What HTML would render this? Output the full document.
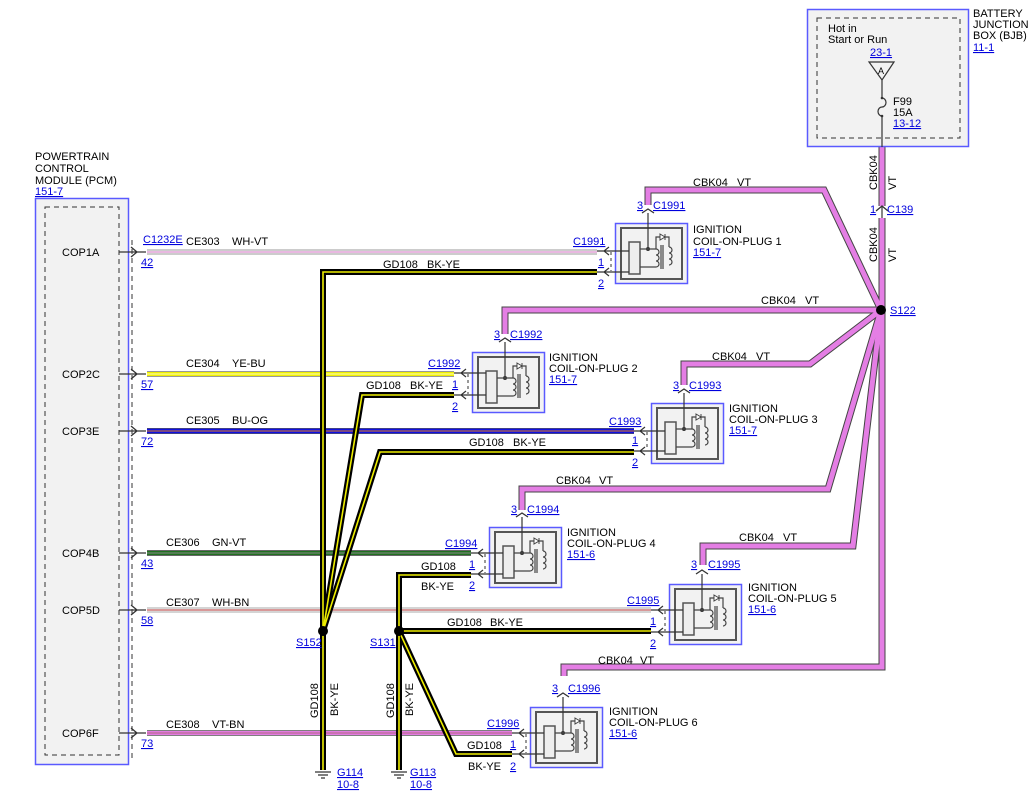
<!DOCTYPE html>
<html><head><meta charset="utf-8"><style>
html,body{margin:0;padding:0;background:#fff;}
svg{display:block;font-family:"Liberation Sans",sans-serif;font-size:11px;}
.l{fill:#0000dd;text-decoration:underline;}
.t{fill:#000;}
</style></head><body>
<svg width="1036" height="802" viewBox="0 0 1036 802" xmlns="http://www.w3.org/2000/svg">
<defs>
<g id="coil">
<rect x="0.5" y="0.5" width="72" height="60" fill="#f3f3f3" stroke="#5a5aff" stroke-width="1.5"/>
<rect x="6" y="5" width="61" height="51" fill="#f2f2f2" stroke="#555" stroke-width="2"/>
<rect x="14" y="19" width="11" height="32" fill="#eee" stroke="#555" stroke-width="1.5"/>
<line x1="33" y1="-10" x2="33" y2="26" stroke="#333" stroke-width="1.2"/>
<circle cx="33" cy="26" r="2" fill="#333"/>
<path d="M25 26 H41 M41 26 a3 3 0 0 1 0 6 a3 3 0 0 1 0 6 a3 3 0 0 1 0 6 M41 44 H25" fill="none" stroke="#444" stroke-width="1.2"/>
<path d="M46 22 V46 M48 22 V46" stroke="#444" stroke-width="1.2"/>
<path d="M54 24 a3 3 0 0 1 0 6 a3 3 0 0 1 0 6 a3 3 0 0 1 0 6 M54 24 V14 H41 V26 M44 14" fill="none" stroke="#444" stroke-width="1.2"/>
<path d="M45 11 L50 14 L45 17 Z M50 11 V17" fill="#fff" stroke="#444" stroke-width="1"/>
<path d="M27 -10 L33 -14 L39 -10" fill="none" stroke="#333" stroke-width="1.3"/>
</g>
</defs>

<!-- PCM -->
<text class="t" x="35" y="160">POWERTRAIN</text>
<text class="t" x="35" y="172">CONTROL</text>
<text class="t" x="35" y="184">MODULE (PCM)</text>
<text class="l" x="35" y="195">151-7</text>
<rect x="35.5" y="198.5" width="93" height="566" fill="#f2f2f2" stroke="#5a5aff" stroke-width="1.5"/>
<rect x="45" y="207" width="74" height="548" fill="none" stroke="#333" stroke-dasharray="5,4"/>
<line x1="132" y1="240" x2="132" y2="760" stroke="#333" stroke-dasharray="5,4"/>
<g class="t">
<text x="62" y="256">COP1A</text><text x="62" y="378">COP2C</text><text x="62" y="435">COP3E</text>
<text x="62" y="557">COP4B</text><text x="62" y="614">COP5D</text><text x="62" y="737">COP6F</text>
</g>
<g stroke="#333" stroke-width="1.3" fill="none">
<path d="M119 252 H146 M131 247 L137 252 L131 257"/>
<path d="M119 374 H146 M131 369 L137 374 L131 379"/>
<path d="M119 431 H146 M131 426 L137 431 L131 436"/>
<path d="M119 553 H146 M131 548 L137 553 L131 558"/>
<path d="M119 610 H146 M131 605 L137 610 L131 615"/>
<path d="M119 733 H146 M131 728 L137 733 L131 738"/>
</g>
<g class="l">
<text x="143" y="243">C1232E</text>
<text x="141" y="266">42</text><text x="141" y="388">57</text><text x="141" y="445">72</text>
<text x="141" y="567">43</text><text x="141" y="624">58</text><text x="141" y="747">73</text>
</g>

<!-- PCM signal wires -->
<g fill="none">
<path d="M147 252 H597" stroke="#999" stroke-width="5"/><path d="M147 252 H597" stroke="#fff" stroke-width="3"/><path d="M147 252 H597" stroke="#d070c0" stroke-width="1"/>
<path d="M147 374 H454" stroke="#777" stroke-width="5.5"/><path d="M147 374 H454" stroke="#f0f000" stroke-width="4"/><path d="M147 374 H454" stroke="#fff" stroke-width="0.8"/>
<path d="M147 431 H634" stroke="#000060" stroke-width="5.5"/><path d="M147 431 H634" stroke="#1010e0" stroke-width="4"/><path d="M147 431 H634" stroke="#e08020" stroke-width="1"/>
<path d="M147 553 H471" stroke="#333" stroke-width="5.5"/><path d="M147 553 H471" stroke="#207020" stroke-width="4"/><path d="M147 553 H471" stroke="#888" stroke-width="1"/>
<path d="M147 610 H651" stroke="#aaa" stroke-width="5"/><path d="M147 610 H651" stroke="#fff" stroke-width="3"/><path d="M147 610 H651" stroke="#b03030" stroke-width="1"/>
<path d="M147 733 H512" stroke="#555" stroke-width="5.5"/><path d="M147 733 H512" stroke="#e27ce2" stroke-width="4"/><path d="M147 733 H512" stroke="#a06060" stroke-width="0.8"/>
</g>
<g class="t">
<text x="186" y="245">CE303</text><text x="232" y="245">WH-VT</text>
<text x="186" y="367">CE304</text><text x="232" y="367">YE-BU</text>
<text x="186" y="424">CE305</text><text x="232" y="424">BU-OG</text>
<text x="166" y="546">CE306</text><text x="212" y="546">GN-VT</text>
<text x="166" y="606">CE307</text><text x="212" y="606">WH-BN</text>
<text x="166" y="728">CE308</text><text x="212" y="728">VT-BN</text>
</g>

<!-- Ground wires BK-YE -->
<g fill="none" stroke-linejoin="miter">
<g stroke="#000" stroke-width="6">
<path d="M597 272 H323 V770"/><path d="M454 395 H362 L323 631"/><path d="M634 452 H380 L323 631"/>
<path d="M471 575 H399 V770"/><path d="M651 631 H399"/><path d="M512 754 H456 L399 631"/>
</g>
<g stroke="#eeee00" stroke-width="1.6">
<path d="M597 272 H323 V770"/><path d="M454 395 H362 L323 631"/><path d="M634 452 H380 L323 631"/>
<path d="M471 575 H399 V770"/><path d="M651 631 H399"/><path d="M512 754 H456 L399 631"/>
</g>
</g>
<circle cx="323" cy="631" r="5" fill="#000"/><circle cx="399" cy="631" r="5" fill="#000"/>
<g stroke="#333" stroke-width="1.2">
<path d="M315 772 H331 M318 775 H328 M321 778 H325"/>
<path d="M391 772 H407 M394 775 H404 M397 778 H401"/>
</g>
<g class="t">
<text x="383" y="268">GD108</text><text x="427" y="268">BK-YE</text>
<text x="366" y="389">GD108</text><text x="410" y="389">BK-YE</text>
<text x="469" y="446">GD108</text><text x="513" y="446">BK-YE</text>
<text x="421" y="570">GD108</text><text x="421" y="590">BK-YE</text>
<text x="447" y="626">GD108</text><text x="490" y="626">BK-YE</text>
<text x="467" y="749">GD108</text><text x="468" y="770">BK-YE</text>
<text transform="translate(318,718) rotate(-90)">GD108</text>
<text transform="translate(338,716) rotate(-90)">BK-YE</text>
<text transform="translate(394,718) rotate(-90)">GD108</text>
<text transform="translate(413,716) rotate(-90)">BK-YE</text>
</g>
<g class="l">
<text x="296" y="646">S152</text><text x="370" y="646">S131</text>
<text x="337" y="776">G114</text><text x="337" y="788">10-8</text>
<text x="410" y="776">G113</text><text x="410" y="788">10-8</text>
</g>

<!-- Pink CBK04 wires -->
<g fill="none" stroke-linejoin="miter">
<g stroke="#444" stroke-width="7">
<path d="M882 147 V206"/>
<path d="M882 218 V667 H564 V676"/>
<path d="M648 205 V190 H824 L881 310"/>
<path d="M505 334 V310 H881"/>
<path d="M684 385 V364 H810 L881 310"/>
<path d="M522 510 V489 H828 L881 310"/>
<path d="M703 565 V546 H853 L881 310"/>
</g>
<g stroke="#e47ee4" stroke-width="5">
<path d="M882 147 V206"/>
<path d="M882 218 V667 H564 V676"/>
<path d="M648 205 V190 H824 L881 310"/>
<path d="M505 334 V310 H881"/>
<path d="M684 385 V364 H810 L881 310"/>
<path d="M522 510 V489 H828 L881 310"/>
<path d="M703 565 V546 H853 L881 310"/>
</g>
</g>
<circle cx="881" cy="310" r="5" fill="#000"/>
<path d="M876 211 L882 206 L888 211" fill="none" stroke="#333" stroke-width="1.3"/>
<line x1="882" y1="206" x2="882" y2="218" stroke="#333" stroke-width="1.2"/>
<g class="t">
<text x="693" y="186">CBK04</text><text x="737" y="186">VT</text>
<text x="761" y="304">CBK04</text><text x="805" y="304">VT</text>
<text x="712" y="360">CBK04</text><text x="756" y="360">VT</text>
<text x="556" y="484">CBK04</text><text x="599" y="484">VT</text>
<text x="739" y="541">CBK04</text><text x="783" y="541">VT</text>
<text x="598" y="664">CBK04</text><text x="640" y="664">VT</text>
<text transform="translate(877,190) rotate(-90)">CBK04</text>
<text transform="translate(896,190) rotate(-90)">VT</text>
<text transform="translate(877,262) rotate(-90)">CBK04</text>
<text transform="translate(896,262) rotate(-90)">VT</text>
</g>
<g class="l">
<text x="870" y="213">1</text><text x="887" y="213">C139</text>
<text x="890" y="314">S122</text>
</g>

<!-- BJB -->
<rect x="807.5" y="9.5" width="161" height="137" fill="#f2f2f2" stroke="#5a5aff" stroke-width="1.5"/>
<rect x="817" y="18" width="143" height="120" fill="none" stroke="#333" stroke-dasharray="5,4"/>
<text class="t" x="828" y="32">Hot in</text>
<text class="t" x="828" y="43">Start or Run</text>
<text class="l" x="870" y="56">23-1</text>
<path d="M869 62 H894 L882 80 Z" fill="#f2f2f2" stroke="#333" stroke-width="1.2"/>
<text class="t" x="878" y="74" font-size="9">A</text>
<path d="M882 80 V98 M882 116 V147 M882 98 a4 4.5 0 0 1 0 9 a4 4.5 0 0 0 0 9" fill="none" stroke="#333" stroke-width="1.2"/>
<circle cx="882" cy="98" r="1.3" fill="#333"/><circle cx="882" cy="116" r="1.3" fill="#333"/>
<text class="t" x="893" y="105">F99</text>
<text class="t" x="893" y="116">15A</text>
<text class="l" x="893" y="127">13-12</text>
<text class="t" x="973" y="17">BATTERY</text>
<text class="t" x="973" y="28">JUNCTION</text>
<text class="t" x="973" y="39">BOX (BJB)</text>
<text class="l" x="973" y="51">11-1</text>

<!-- Coils -->
<use href="#coil" x="615" y="223"/>
<use href="#coil" x="472" y="352"/>
<use href="#coil" x="651" y="403"/>
<use href="#coil" x="489" y="527"/>
<use href="#coil" x="669" y="584"/>
<use href="#coil" x="530" y="707"/>

<g stroke="#333" stroke-width="1.2" fill="none">
<path d="M597 251 H629 M597 272 H629 M609 247 L604 251 L609 255 M609 268 L604 272 L609 276"/>
<path d="M454 373 H486 M454 395 H486 M466 369 L461 373 L466 377 M466 391 L461 395 L466 399"/>
<path d="M634 431 H665 M634 451 H665 M645 427 L640 431 L645 435 M645 447 L640 451 L645 455"/>
<path d="M471 553 H503 M471 574 H503 M483 549 L478 553 L483 557 M483 570 L478 574 L483 578"/>
<path d="M651 610 H683 M651 632 H683 M663 606 L658 610 L663 614 M663 628 L658 632 L663 636"/>
<path d="M512 733 H544 M512 754 H544 M524 729 L519 733 L524 737 M524 750 L519 754 L524 758"/>
</g>
<g stroke="#333" stroke-width="1" stroke-dasharray="3,3">
<path d="M611 252 V271 M468 374 V394 M647 432 V450 M485 554 V573 M665 611 V631 M526 734 V753"/>
</g>

<g class="l">
<text x="573" y="245">C1991</text><text x="598" y="266">1</text><text x="598" y="287">2</text>
<text x="637" y="209">3</text><text x="653" y="209">C1991</text>
<text x="428" y="367">C1992</text><text x="452" y="388">1</text><text x="452" y="410">2</text>
<text x="494" y="338">3</text><text x="510" y="338">C1992</text>
<text x="609" y="425">C1993</text><text x="632" y="444">1</text><text x="632" y="466">2</text>
<text x="673" y="389">3</text><text x="689" y="389">C1993</text>
<text x="445" y="547">C1994</text><text x="469" y="568">1</text><text x="469" y="589">2</text>
<text x="511" y="513">3</text><text x="527" y="513">C1994</text>
<text x="627" y="604">C1995</text><text x="650" y="625">1</text><text x="650" y="647">2</text>
<text x="691" y="568">3</text><text x="708" y="568">C1995</text>
<text x="487" y="727">C1996</text><text x="510" y="748">1</text><text x="510" y="770">2</text>
<text x="552" y="692">3</text><text x="568" y="692">C1996</text>
</g>
<g class="t">
<text x="693" y="233">IGNITION</text><text x="693" y="245">COIL-ON-PLUG 1</text>
<text x="549" y="361">IGNITION</text><text x="549" y="372">COIL-ON-PLUG 2</text>
<text x="729" y="412">IGNITION</text><text x="729" y="423">COIL-ON-PLUG 3</text>
<text x="567" y="536">IGNITION</text><text x="567" y="547">COIL-ON-PLUG 4</text>
<text x="748" y="591">IGNITION</text><text x="748" y="602">COIL-ON-PLUG 5</text>
<text x="609" y="715">IGNITION</text><text x="609" y="726">COIL-ON-PLUG 6</text>
</g>
<g class="l">
<text x="693" y="256">151-7</text><text x="549" y="383">151-7</text><text x="729" y="434">151-7</text>
<text x="567" y="558">151-6</text><text x="748" y="613">151-6</text><text x="609" y="737">151-6</text>
</g>
</svg>
</body></html>
